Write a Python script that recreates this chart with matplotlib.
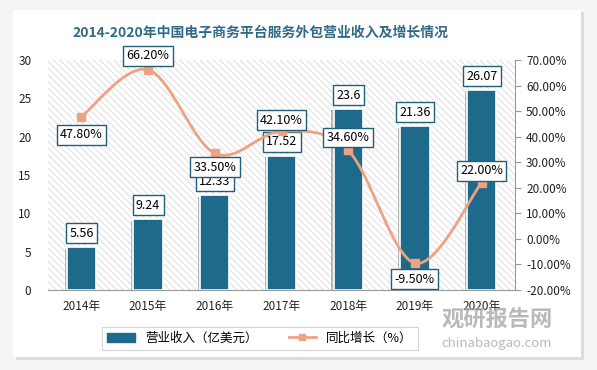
import matplotlib.pyplot as plt
import matplotlib.patheffects as pe
from matplotlib.path import Path
from matplotlib.patches import PathPatch, Rectangle
import numpy as np

plt.rcParams['font.family'] = ['Noto Sans CJK SC', 'DejaVu Sans']
plt.rcParams['hatch.linewidth'] = 0.6

years = ['2014年', '2015年', '2016年', '2017年', '2018年', '2019年', '2020年']
revenue = [5.56, 9.24, 12.33, 17.52, 23.6, 21.36, 26.07]
growth = [47.80, 66.20, 33.50, 42.10, 34.60, -9.50, 22.00]
# label offsets in pixels (positive = above the point)
growth_dy = [-18, 14, -14, 11, 13, -16, 12]

bar_color = '#1d6a8b'
line_color = '#efa283'
box_edge = '#1f5f78'
px = 72 / 100  # points per pixel

fig = plt.figure(figsize=(5.97, 3.7), dpi=100)
fig.patch.set_facecolor('#f5f5f5')
# card with shadow
fig.add_artist(Rectangle((16 / 597, 1 - 360 / 370), 568 / 597, 348 / 370, transform=fig.transFigure,
                         facecolor='#dcdcdc', edgecolor='none', zorder=-2))
fig.add_artist(Rectangle((13 / 597, 1 - 357 / 370), 568 / 597, 347 / 370, transform=fig.transFigure,
                         facecolor='white', edgecolor='none', zorder=-1))

ax = fig.add_axes([48 / 597, 1 - 290 / 370, 467 / 597, 230 / 370])
ax.set_facecolor('none')
ax.add_patch(Rectangle((0, 0), 1, 1, transform=ax.transAxes, facecolor='white',
                       edgecolor='#dadada', linewidth=0, hatch='\\\\\\\\\\', zorder=0))
x = np.arange(len(years))
bars = ax.bar(x, revenue, width=0.44, color=bar_color, edgecolor='white', linewidth=1.2, zorder=2,
              path_effects=[pe.SimplePatchShadow(offset=(-1.5, -1), shadow_rgbFace='#777777', alpha=0.5), pe.Normal()])
ax.set_xlim(-0.5, len(years) - 0.5)
ax.set_ylim(0, 30)
ax.set_yticks(range(0, 31, 5))
ax.set_xticks(x)
ax.set_xticklabels(years)
ax.tick_params(axis='both', length=0, labelsize=8.5, colors='#222222')
ax.tick_params(axis='y', pad=12)
ax.tick_params(axis='x', pad=7)
for s in ['top', 'left', 'right']:
    ax.spines[s].set_visible(False)
ax.spines['bottom'].set_color('#999999')

bbox = dict(boxstyle='square,pad=0.27', facecolor='white', edgecolor=box_edge, linewidth=1)
for xi, v in zip(x, revenue):
    ax.annotate(f'{v:g}', (xi, v), xytext=(0, 14 * px), textcoords='offset points', ha='center', va='center',
                fontsize=9, bbox=bbox, zorder=5)

ax2 = ax.twinx()
ax2.set_ylim(-20, 70)
ax2.set_yticks(range(-20, 71, 10))
ax2.set_yticklabels([f'{t:.2f}%' for t in range(-20, 71, 10)])
ax2.tick_params(axis='y', length=4, color='#999999', labelsize=8.5, labelcolor='#222222', pad=4)
for s in ['top', 'left', 'bottom']:
    ax2.spines[s].set_visible(False)
ax2.spines['right'].set_color('#999999')

# smooth line (Catmull-Rom as cubic Bezier segments)
pts = np.column_stack([x, growth]).astype(float)
verts = [pts[0]]
codes = [Path.MOVETO]
n = len(pts)
for i in range(n - 1):
    p0 = pts[max(i - 1, 0)]
    p1 = pts[i]
    p2 = pts[i + 1]
    p3 = pts[min(i + 2, n - 1)]
    c1 = p1 + (p2 - p0) / 6
    c2 = p2 - (p3 - p1) / 6
    verts += [c1, c2, p2]
    codes += [Path.CURVE4] * 3
ax2.add_patch(PathPatch(Path(verts, codes), facecolor='none', edgecolor=line_color, linewidth=2, zorder=3))
ax2.plot(x, growth, linestyle='none', marker='s', markersize=6, color=line_color, zorder=4)

for xi, v, dy in zip(x, growth, growth_dy):
    ax2.annotate(f'{v:.2f}%', (xi, v), xytext=(0, dy * px), textcoords='offset points', ha='center', va='center',
                 fontsize=9, bbox=bbox, zorder=6)

fig.text(260 / 597, 1 - 33 / 370, '2014-2020年中国电子商务平台服务外包营业收入及增长情况', ha='center', va='center',
         fontsize=10, fontweight='bold', color='#2f6a88')

# legend
h1 = plt.Rectangle((0, 0), 1, 1, color=bar_color)
h2, = ax.plot([], [], color=line_color, marker='s', markersize=5, linewidth=2)
leg = fig.legend([h1, h2], ['营业收入（亿美元）', '同比增长（%）'], loc='center', bbox_to_anchor=(260 / 597, 1 - 338 / 370),
                 ncol=2, fontsize=9, frameon=True, fancybox=False, edgecolor='#cccccc', handlelength=2.2,
                 columnspacing=2.5, borderpad=0.4)
leg.get_frame().set_linewidth(0.8)

# watermark
fig.text(497 / 597, 1 - 320 / 370, '观研报告网', ha='center', va='center', fontsize=16, fontweight='bold',
         color='#a8a8a8', alpha=0.8)
fig.text(497 / 597, 1 - 343 / 370, 'chinabaogao.com', ha='center', va='center', fontsize=9.5,
         color='#a8a8a8', alpha=0.8)

fig.savefig('out.png', dpi=100, facecolor=fig.get_facecolor())
